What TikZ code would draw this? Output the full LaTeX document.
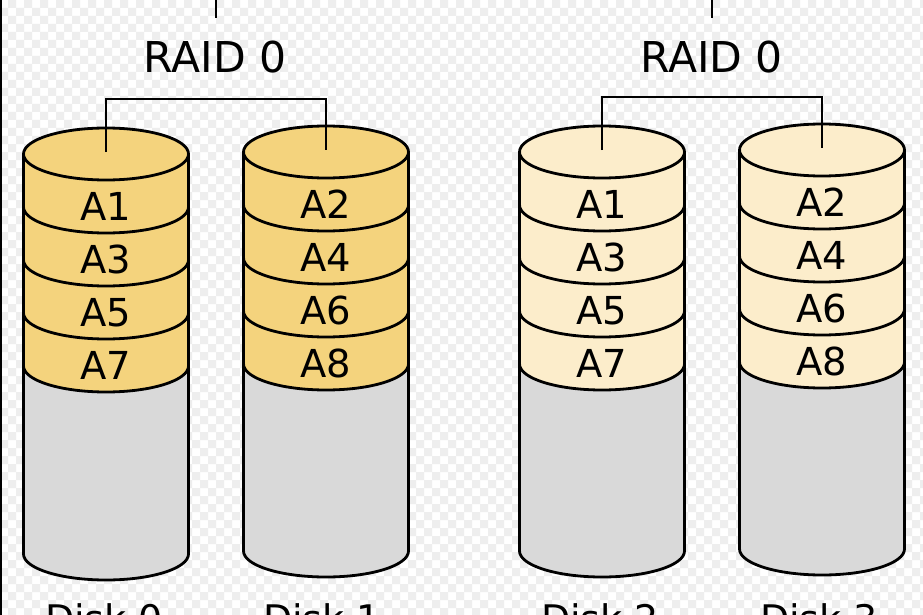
\documentclass[tikz,border=0pt]{standalone}
\usepackage{fontspec}
\setmainfont{DejaVu Sans}
\definecolor{ylw}{HTML}{F4D37D}
\definecolor{lylw}{HTML}{FCEDCB}
\definecolor{dgray}{HTML}{D9D9D9}
\definecolor{chk}{HTML}{EEEEEE}
\newcommand\dkrx{82.5}
\newcommand\dkry{26}
\newcommand\dkh{53}
% #1 name, #2 cx, #3 y0 (top ellipse centre, px down), #4 yb (end of sides), #5 fill, #6 labels
\newcommand\diskcyl[6]{%
  \coordinate (#1top) at (#2,-#3+2);
  \fill[#5] (#2-\dkrx,-#3) -- (#2-\dkrx,-#3-4*\dkh)
     arc[start angle=180,end angle=360,x radius=\dkrx,y radius=\dkry]
     -- (#2+\dkrx,-#3)
     arc[start angle=0,end angle=180,x radius=\dkrx,y radius=\dkry] -- cycle;
  \fill[dgray] (#2-\dkrx,-#3-4*\dkh)
     arc[start angle=180,end angle=360,x radius=\dkrx,y radius=\dkry]
     -- (#2+\dkrx,-#4)
     arc[start angle=360,end angle=180,x radius=\dkrx,y radius=\dkry] -- cycle;
  \draw[outl] (#2,-#3) ellipse[x radius=\dkrx,y radius=\dkry];
  \foreach \k in {1,...,4}{
    \draw[outl] (#2-\dkrx,-#3-\k*\dkh)
      arc[start angle=180,end angle=360,x radius=\dkrx,y radius=\dkry];
  }
  \draw[outl] (#2-\dkrx,-#3) -- (#2-\dkrx,-#4)
     arc[start angle=180,end angle=360,x radius=\dkrx,y radius=\dkry]
     -- (#2+\dkrx,-#3);
  \foreach \t [count=\k] in {#6}{
    \node[albl] (#1-\k) at (#2,{-#3-\dkry-(\k-0.5)*\dkh-13.8}) {\t};
  }
}
\begin{document}
\begin{tikzpicture}[x=1pt,y=1pt,
  outl/.style={line width=2.8pt,line join=round},
  conn/.style={line width=2.4pt},
  albl/.style={anchor=base,inner sep=0pt,font=\fontsize{38.5}{46}\selectfont},
  rlbl/.style={anchor=base,inner sep=0pt,font=\fontsize{42.5}{50}\selectfont},
  dlbl/.style={anchor=base,inner sep=0pt,font=\fontsize{38}{46}\selectfont}]
\useasboundingbox (0,0) rectangle (923,-615);
\begin{scope}
\clip (0,0) rectangle (923,-615);
\fill[white] (0,0) rectangle (923,-615);
\foreach \i in {0,16,...,912}{
  \foreach \j in {0,16,...,608}{
    \fill[chk] (\i+8,-\j) rectangle ++(8,-8) (\i,-\j-8) rectangle ++(8,-8);
  }
}
\diskcyl{d0}{106}{154}{554}{ylw}{A1,A3,A5,A7}
\diskcyl{d1}{326}{152}{551}{ylw}{A2,A4,A6,A8}
\diskcyl{d2}{602}{152}{551}{lylw}{A1,A3,A5,A7}
\diskcyl{d3}{822}{150}{549}{lylw}{A2,A4,A6,A8}
\node[rlbl] (r1) at (215,-72.5) {RAID 0};
\node[rlbl] (r2) at (711.5,-72.5) {RAID 0};
\coordinate (t1) at (216,1);
\coordinate (t2) at (712,1);
\draw[conn] (t1) -- (216,-18);
\draw[conn] (t2) -- (712,-18);
\draw[conn] (d0top) -- (106,-99) -| (d1top);
\draw[conn] (d2top) -- (602,-97) -| (d3top);
\node[dlbl] (n0) at (104,-632) {Disk 0};
\node[dlbl] (n1) at (322,-632) {Disk 1};
\node[dlbl] (n2) at (600,-632) {Disk 2};
\node[dlbl] (n3) at (819,-632) {Disk 3};
\draw[line width=1.5pt] (0.75,0) -- (0.75,-615);
\end{scope}
\end{tikzpicture}
\end{document}
